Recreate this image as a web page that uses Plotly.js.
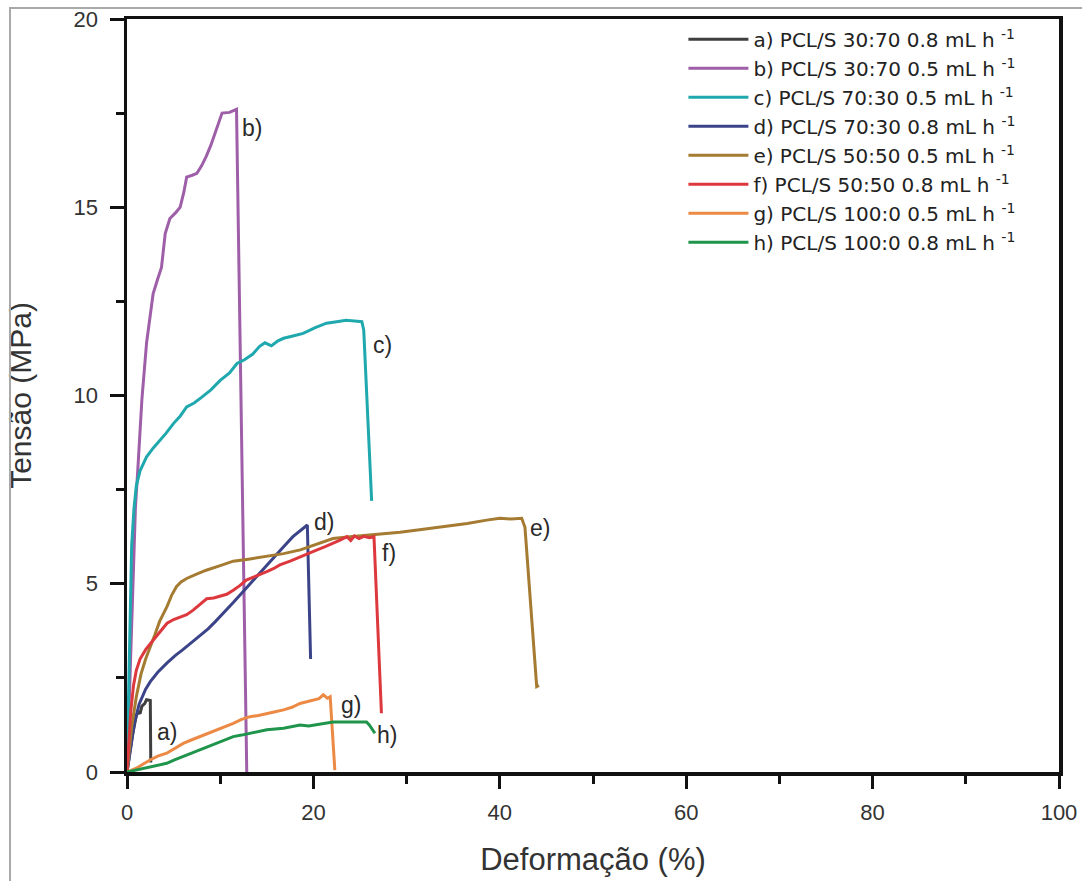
<!DOCTYPE html>
<html>
<head>
<meta charset="utf-8">
<script src="https://cdn.plot.ly/plotly-3.0.1.min.js"></script>
<style>
  html, body { margin: 0; padding: 0; background: #fff; }
  #wrap { position: relative; width: 1082px; height: 881px; }
  #frame { position: absolute; left: 9px; top: 7px; width: 1073px; height: 874px;
           border-left: 2px solid #a9a9a9; border-top: 2px solid #a9a9a9; pointer-events: none; }
  #chart { position: absolute; left: 0; top: 0; width: 1082px; height: 881px; }
</style>
</head>
<body>
<div id="wrap">
  <div id="chart"></div>
  <div id="frame"></div>
</div>
<script>
// Stress–strain curves (strain in %, stress in MPa)
const strainA = [0, 0.3, 0.6, 0.8, 1.0, 1.2, 1.4, 1.6, 1.9, 2.1, 2.5, 2.55];
const stressA = [0, 0.55, 1.0, 1.25, 1.5, 1.6, 1.55, 1.75, 1.82, 1.92, 1.9, 0.25];

const strainB = [0, 0.3, 0.6, 0.9, 1.2, 1.6, 2.1, 2.5, 2.8, 3.3, 3.7, 4.1, 4.6, 5.2, 5.7, 6.1, 6.4, 7.0, 7.5, 8.0, 8.5, 9.0, 9.4, 9.8, 10.2, 11.0, 11.75, 12.85];
const stressB = [0, 2.5, 5.0, 7.0, 8.2, 9.9, 11.4, 12.2, 12.7, 13.1, 13.4, 14.3, 14.7, 14.85, 15.0, 15.4, 15.8, 15.85, 15.9, 16.1, 16.35, 16.65, 16.95, 17.2, 17.5, 17.52, 17.6, 0];

const strainC = [0, 0.15, 0.3, 0.5, 0.75, 1.0, 1.4, 2.1, 2.8, 3.5, 4.2, 5.0, 5.7, 6.4, 7.2, 8.0, 9.0, 10.0, 11.0, 11.8, 12.6, 13.5, 14.2, 14.8, 15.5, 16.2, 16.8, 17.8, 18.9, 20.2, 21.4, 22.5, 23.5, 24.4, 25.2, 25.4, 25.8, 26.25];
const stressC = [0, 2.0, 4.4, 6.0, 7.0, 7.6, 8.0, 8.37, 8.6, 8.8, 9.0, 9.26, 9.45, 9.7, 9.8, 9.95, 10.15, 10.4, 10.6, 10.85, 10.95, 11.1, 11.3, 11.4, 11.32, 11.45, 11.52, 11.58, 11.65, 11.8, 11.92, 11.96, 12.0, 11.98, 11.96, 11.74, 9.5, 7.2];

const strainD = [0, 0.4, 0.8, 1.3, 2.0, 2.5, 3.3, 4.3, 5.2, 6.0, 7.0, 7.8, 8.7, 9.5, 10.5, 11.4, 12.3, 13.2, 14.5, 15.7, 16.8, 17.8, 18.6, 19.35, 19.7];
const stressD = [0, 0.6, 1.3, 1.8, 2.2, 2.4, 2.65, 2.9, 3.1, 3.25, 3.45, 3.6, 3.8, 4.0, 4.25, 4.5, 4.75, 5.0, 5.35, 5.7, 5.98, 6.25, 6.4, 6.56, 3.0];

const strainE = [0, 0.5, 1.0, 1.5, 2.0, 2.5, 3.0, 3.5, 4.3, 4.8, 5.3, 5.8, 6.4, 7.4, 8.5, 10.0, 11.4, 13.2, 15.0, 16.8, 18.6, 20.4, 22.1, 23.9, 25.7, 27.1, 29.3, 31.8, 34.3, 36.5, 38.6, 40.0, 41.2, 42.35, 42.7, 43.3, 43.96, 44.2];
const stressE = [0, 1.2, 2.0, 2.6, 3.0, 3.3, 3.65, 4.0, 4.4, 4.7, 4.92, 5.05, 5.14, 5.25, 5.36, 5.48, 5.6, 5.66, 5.72, 5.8, 5.9, 6.05, 6.2, 6.25, 6.29, 6.34, 6.37, 6.45, 6.52, 6.6, 6.69, 6.74, 6.72, 6.74, 6.5, 4.4, 2.27, 2.3];

const strainF = [0, 0.2, 0.4, 0.7, 1.0, 1.4, 2.0, 2.8, 3.5, 4.3, 5.0, 5.7, 6.4, 7.1, 7.8, 8.55, 9.3, 10.0, 10.7, 11.4, 12.1, 12.8, 13.9, 15.0, 15.7, 16.4, 17.5, 18.6, 19.5, 20.4, 21.2, 22.1, 22.8, 23.6, 24.0, 24.4, 24.9, 25.4, 26.0, 26.5, 27.3];
const stressF = [0, 0.8, 1.6, 2.3, 2.7, 3.0, 3.25, 3.5, 3.7, 3.95, 4.05, 4.12, 4.18, 4.3, 4.45, 4.6, 4.62, 4.66, 4.72, 4.83, 4.95, 5.1, 5.2, 5.32, 5.4, 5.5, 5.6, 5.72, 5.8, 5.9, 5.98, 6.07, 6.15, 6.25, 6.15, 6.27, 6.2, 6.26, 6.22, 6.25, 1.56];

const strainG = [0, 1.0, 2.47, 3.3, 4.26, 5.1, 6.04, 6.9, 7.83, 8.7, 9.62, 10.5, 11.4, 12.3, 13.2, 14.1, 15.0, 15.9, 16.8, 17.7, 18.56, 19.3, 20.0, 20.6, 21.06, 21.5, 21.8, 22.3];
const stressG = [0, 0.1, 0.32, 0.42, 0.5, 0.62, 0.76, 0.85, 0.94, 1.03, 1.12, 1.2, 1.29, 1.4, 1.47, 1.5, 1.56, 1.6, 1.65, 1.72, 1.82, 1.86, 1.91, 1.95, 2.05, 1.96, 2.0, 0.05];

const strainH = [0, 1.0, 2.47, 3.3, 4.26, 5.1, 6.04, 6.9, 7.83, 8.7, 9.62, 10.5, 11.4, 12.3, 13.2, 14.1, 15.0, 16.8, 18.56, 19.5, 20.35, 21.2, 22.1, 23.9, 25.7, 26.0, 26.6];
const stressH = [0, 0.05, 0.14, 0.18, 0.23, 0.32, 0.41, 0.5, 0.58, 0.67, 0.76, 0.85, 0.94, 0.98, 1.03, 1.08, 1.12, 1.16, 1.25, 1.22, 1.25, 1.28, 1.33, 1.33, 1.33, 1.25, 1.03];

const seriesNames = [
  'a) PCL/S 30:70 0.8 mL h <sup>-1</sup>',
  'b) PCL/S 30:70 0.5 mL h <sup>-1</sup>',
  'c) PCL/S 70:30 0.5 mL h <sup>-1</sup>',
  'd) PCL/S 70:30 0.8 mL h <sup>-1</sup>',
  'e) PCL/S 50:50 0.5 mL h <sup>-1</sup>',
  'f) PCL/S 50:50 0.8 mL h <sup>-1</sup>',
  'g) PCL/S 100:0 0.5 mL h <sup>-1</sup>',
  'h) PCL/S 100:0 0.8 mL h <sup>-1</sup>'
];

// Curve tags placed beside the rupture point of each curve
const tagText = ['a)', 'b)', 'c)', 'd)', 'e)', 'f)', 'g)', 'h)'];
const tagX = [4.3, 13.4, 27.4, 21.1, 44.3, 28.1, 24.0, 27.9];
const tagY = [1.07, 17.1, 11.34, 6.65, 6.47, 5.82, 1.78, 0.98];

const xTicks = [0, 20, 40, 60, 80, 100];
const yTicks = [0, 5, 10, 15, 20];

const colors = ['#3f3f3f', '#9e5fa8', '#1fa8ad', '#3c4489', '#a57b32', '#dc383d', '#ec8a45', '#1f944b'];
const xs = [strainA, strainB, strainC, strainD, strainE, strainF, strainG, strainH];
const ys = [stressA, stressB, stressC, stressD, stressE, stressF, stressG, stressH];

const FONT = 'Liberation Sans, Arial, Helvetica, sans-serif';
const LEGEND_FONT = 'DejaVu Sans, Liberation Sans, Arial, sans-serif';

const traces = xs.map((x, i) => ({
  type: 'scatter',
  mode: 'lines',
  x: x,
  y: ys[i],
  name: seriesNames[i],
  line: { color: colors[i], width: 3 },
  hoverinfo: 'skip'
}));

const annotations = tagText.map((t, i) => ({
  x: tagX[i], y: tagY[i], xref: 'x', yref: 'y',
  text: t, showarrow: false,
  font: { family: FONT, size: 23, color: '#2a2a2a' }
}));

const axisCommon = {
  showline: true, linecolor: '#111', linewidth: 3.5, mirror: true,
  ticks: 'outside', tickcolor: '#111', tickwidth: 3,
  showgrid: false, zeroline: false, automargin: false,
  tickfont: { family: FONT, size: 22, color: '#333' }
};

const layout = {
  width: 1082, height: 881,
  margin: { l: 127, r: 23, t: 19, b: 109 },
  paper_bgcolor: 'rgba(0,0,0,0)', plot_bgcolor: '#fff',
  showlegend: true,
  legend: {
    x: 0.597, xanchor: 'left', y: 0.999, yanchor: 'top',
    bgcolor: 'rgba(0,0,0,0)', borderwidth: 0,
    font: { family: LEGEND_FONT, size: 20, color: '#222' },
    tracegroupgap: 0, itemwidth: 60
  },
  xaxis: Object.assign({}, axisCommon, {
    range: [0, 100], tickvals: xTicks, ticktext: xTicks.map(String),
    ticklen: 13, ticklabelstandoff: 5,
    minor: { dtick: 10, tick0: 0, ticks: 'outside', ticklen: 8, tickwidth: 3, tickcolor: '#111' },
    title: { text: 'Deformação (%)', font: { family: FONT, size: 31, color: '#333' }, standoff: 25 }
  }),
  yaxis: Object.assign({}, axisCommon, {
    range: [0, 20], tickvals: yTicks, ticktext: yTicks.map(String),
    ticklen: 14, ticklabelstandoff: 7,
    minor: { dtick: 2.5, tick0: 0, ticks: 'outside', ticklen: 8, tickwidth: 3, tickcolor: '#111' },
    title: { text: 'Tensão (MPa)', font: { family: FONT, size: 30, color: '#333' }, standoff: 34 }
  }),
  annotations: annotations
};

Plotly.newPlot('chart', traces, layout, { displayModeBar: false, staticPlot: true });
</script>
</body>
</html>
